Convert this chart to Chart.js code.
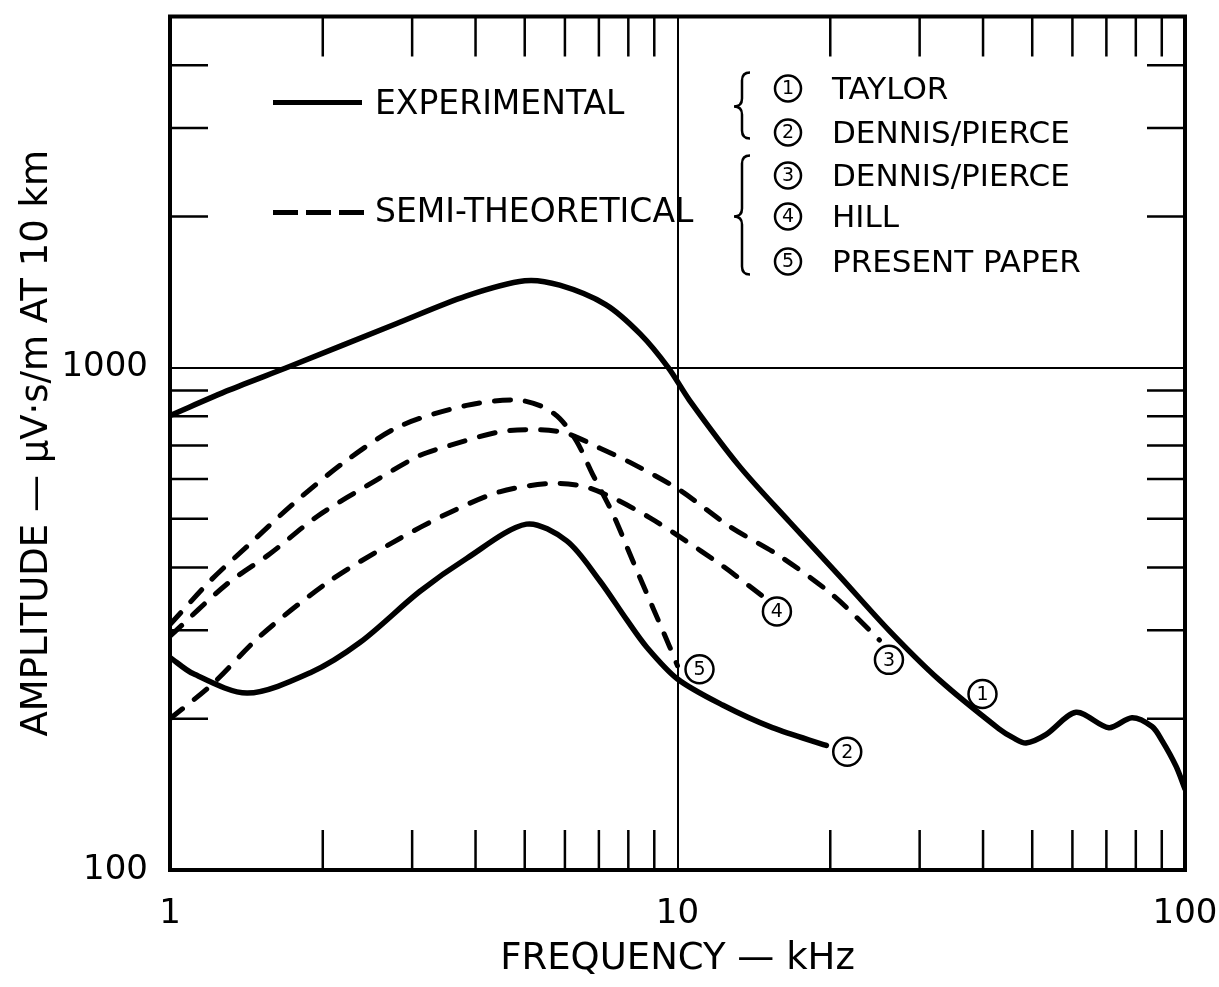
<!DOCTYPE html>
<html>
<head>
  <title>Amplitude vs Frequency</title>
  <script src="https://cdn.jsdelivr.net/npm/chart.js"></script>
  <style>
    body {
      margin: 0;
      background: #fff;
    }
    #chart-wrapper {
      width: 1219px;
      height: 987px;
    }
  </style>
</head>
<body>
<div id="chart-wrapper">
  <canvas id="chart" width="1219" height="987"></canvas>
</div>

<script>
  // axis ticks
  const xLabelTicks = [1, 10, 100];
  const yLabelTicks = [100, 1000];
  const xMinorTicks = [2, 3, 4, 5, 6, 7, 8, 9, 20, 30, 40, 50, 60, 70, 80, 90];
  const yMinorTicks = [200, 300, 400, 500, 600, 700, 800, 900, 2000, 3000, 4000];

  // (1) Taylor - experimental
  const taylorFreq = [1, 1.31, 1.72, 2.79, 3.83, 5.0, 5.86, 7.22, 8.45, 9.59, 10.56, 13.25, 16.6, 20.8, 26.1, 32.8, 43.0, 46, 48.6, 53.2, 61.0, 70.8, 78.6, 86.1, 90.1, 96.0, 100];
  const taylorAmp  = [803, 903, 1005, 1223, 1388, 1489, 1459, 1335, 1166, 1000, 861, 636, 494, 386, 300, 239, 191, 183, 179, 186, 206, 192, 201, 193, 181, 161, 145];

  // (2) Dennis/Pierce - experimental
  const dpExpFreq = [1, 1.11, 1.42, 1.89, 2.37, 3.10, 3.84, 5.04, 6.05, 7.02, 7.94, 8.69, 10, 12.27, 15.38, 19.65];
  const dpExpAmp  = [265, 246, 225, 247, 284, 358, 417, 488, 452, 377, 315, 278, 240, 213, 192, 177];

  // (3) Dennis/Pierce - semi-theoretical
  const dpThFreq = [1, 1.295, 1.574, 1.946, 2.556, 3.10, 3.56, 4.46, 5.35, 6.05, 7.02, 8.15, 10.09, 12.66, 15.88, 20.2, 25.0];
  const dpThAmp  = [292, 371, 426, 505, 598, 668, 700, 745, 752, 740, 692, 644, 571, 483, 422, 353, 287];

  // (4) Hill - semi-theoretical
  const hillFreq = [1, 1.215, 1.504, 2.04, 2.75, 3.56, 4.46, 5.60, 6.50, 7.45, 8.81, 10.09, 12.27, 14.70];
  const hillAmp  = [200, 235, 292, 373, 449, 515, 566, 588, 581, 551, 503, 461, 403, 351];

  // (5) Present paper - semi-theoretical
  const presentFreq = [1, 1.199, 1.437, 1.746, 2.23, 2.84, 3.84, 4.82, 5.42, 5.86, 6.33, 6.80, 7.45, 8.15, 8.93, 9.64, 10];
  const presentAmp  = [308, 376, 446, 535, 654, 765, 841, 862, 836, 792, 713, 614, 513, 414, 334, 279, 255];

  // circled curve numbers on the plot
  const markerFreq = [39.9, 21.6, 26.1, 15.7, 11.05];
  const markerAmp  = [224, 172, 262, 327, 251];
  const markerText = ['1', '2', '3', '4', '5'];

  // legend text
  const legendKinds = ['EXPERIMENTAL', 'SEMI-THEORETICAL'];
  const legendNames = ['TAYLOR', 'DENNIS/PIERCE', 'DENNIS/PIERCE', 'HILL', 'PRESENT PAPER'];

  const FONT = '"DejaVu Sans", sans-serif';
  Chart.defaults.font.family = FONT;
  Chart.defaults.color = '#000';

  const zip = (xs, ys) => xs.map((v, i) => ({ x: v, y: ys[i] }));

  const solid = { borderColor: '#000', borderWidth: 5.5, borderCapStyle: 'round', borderJoinStyle: 'round',
                  pointRadius: 0, fill: false, tension: 0.3 };
  const dashed = Object.assign({}, solid, { borderWidth: 5, borderDash: [16, 15] });

  // frame, inward ticks, legend, braces and circled numbers
  const decorations = {
    id: 'decorations',
    beforeDatasetsDraw(chart) {
      const { ctx, chartArea: a, scales: { x, y } } = chart;
      ctx.save();
      ctx.strokeStyle = '#000';
      ctx.lineWidth = 2.5;
      ctx.beginPath();
      xMinorTicks.forEach(v => {
        const px = x.getPixelForValue(v);
        ctx.moveTo(px, a.top); ctx.lineTo(px, a.top + 40);
        ctx.moveTo(px, a.bottom); ctx.lineTo(px, a.bottom - 40);
      });
      yMinorTicks.forEach(v => {
        const py = y.getPixelForValue(v);
        ctx.moveTo(a.left, py); ctx.lineTo(a.left + 38, py);
        ctx.moveTo(a.right, py); ctx.lineTo(a.right - 38, py);
      });
      ctx.stroke();
      ctx.lineWidth = 4;
      ctx.strokeRect(a.left, a.top, a.right - a.left, a.bottom - a.top);
      ctx.restore();
    },
    afterDatasetsDraw(chart) {
      const { ctx, chartArea: a } = chart;
      ctx.save();
      ctx.fillStyle = '#000';
      ctx.strokeStyle = '#000';
      ctx.textBaseline = 'middle';

      // numbers inside the plot markers
      const meta = chart.getDatasetMeta(5);
      ctx.font = '19px ' + FONT;
      ctx.textAlign = 'center';
      meta.data.forEach((pt, i) => ctx.fillText(markerText[i], pt.x, pt.y + 1));

      // left legend: line samples
      const lx = a.left + 103, lw = 89;
      ctx.lineWidth = 5;
      ctx.beginPath();
      ctx.moveTo(lx, a.top + 86); ctx.lineTo(lx + lw, a.top + 86);
      ctx.stroke();
      ctx.setLineDash([25, 8]);
      ctx.beginPath();
      ctx.moveTo(lx, a.top + 196); ctx.lineTo(lx + lw + 2, a.top + 196);
      ctx.stroke();
      ctx.setLineDash([]);
      ctx.font = '33px ' + FONT;
      ctx.textAlign = 'left';
      ctx.fillText(legendKinds[0], a.left + 205, a.top + 89);
      ctx.fillText(legendKinds[1], a.left + 205, a.top + 197);

      // braces
      const brace = (bx, y0, y1, ym, w) => {
        ctx.beginPath();
        ctx.moveTo(bx + w, y0);
        ctx.quadraticCurveTo(bx, y0, bx, y0 + w);
        ctx.lineTo(bx, ym - w);
        ctx.quadraticCurveTo(bx, ym, bx - w, ym);
        ctx.quadraticCurveTo(bx, ym, bx, ym + w);
        ctx.lineTo(bx, y1 - w);
        ctx.quadraticCurveTo(bx, y1, bx + w, y1);
        ctx.stroke();
      };
      ctx.lineWidth = 2.5;
      brace(a.left + 572, a.top + 56, a.top + 122, a.top + 90, 8);
      brace(a.left + 572, a.top + 139, a.top + 258, a.top + 200, 8);

      // right legend: circled numbers and names
      const rows = [72, 116, 159, 200, 245];
      rows.forEach((r, i) => {
        ctx.lineWidth = 2.5;
        ctx.beginPath();
        ctx.arc(a.left + 618, a.top + r, 13, 0, Math.PI * 2);
        ctx.stroke();
        ctx.font = '19px ' + FONT;
        ctx.textAlign = 'center';
        ctx.fillText(markerText[i], a.left + 618, a.top + r + 1);
        ctx.font = '31px ' + FONT;
        ctx.textAlign = 'left';
        ctx.fillText(legendNames[i], a.left + 662, a.top + r + 2);
      });
      ctx.restore();
    }
  };

  const chartCtx = document.getElementById('chart').getContext('2d');
  const chart = new Chart(chartCtx, {
    type: 'line',
    data: {
      datasets: [
        Object.assign({ label: 'Taylor', data: zip(taylorFreq, taylorAmp) }, solid),
        Object.assign({ label: 'Dennis/Pierce (exp.)', data: zip(dpExpFreq, dpExpAmp) }, solid),
        Object.assign({ label: 'Dennis/Pierce (semi-th.)', data: zip(dpThFreq, dpThAmp) }, dashed),
        Object.assign({ label: 'Hill', data: zip(hillFreq, hillAmp) }, dashed),
        Object.assign({ label: 'Present paper', data: zip(presentFreq, presentAmp) }, dashed),
        {
          label: 'markers',
          data: zip(markerFreq, markerAmp),
          showLine: false,
          pointRadius: 14,
          pointBackgroundColor: '#fff',
          pointBorderColor: '#000',
          pointBorderWidth: 2.5
        }
      ]
    },
    options: {
      responsive: false,
      animation: false,
      devicePixelRatio: 1,
      events: [],
      layout: { padding: { top: 4, right: 34, left: 0, bottom: 0 } },
      plugins: {
        legend: { display: false },
        tooltip: { enabled: false }
      },
      scales: {
        x: {
          type: 'logarithmic',
          min: 1,
          max: 100,
          afterBuildTicks: s => { s.ticks = xLabelTicks.map(v => ({ value: v })); },
          afterFit: s => { s.height = 117; s.paddingLeft = 0; s.paddingRight = 0; },
          ticks: { callback: v => String(v), font: { size: 34 }, padding: 24, maxRotation: 0 },
          grid: { color: '#000', lineWidth: 2, drawTicks: false },
          border: { display: false },
          title: { display: true, text: 'FREQUENCY — kHz', font: { size: 37 }, padding: { top: 0, bottom: 5 } }
        },
        y: {
          type: 'logarithmic',
          min: 100,
          max: 5000,
          afterBuildTicks: s => { s.ticks = yLabelTicks.map(v => ({ value: v })); },
          afterFit: s => { s.width = 170; s.paddingTop = 0; s.paddingBottom = 0; },
          ticks: { callback: v => String(v), font: { size: 34 }, padding: 22 },
          grid: { color: '#000', lineWidth: 2, drawTicks: false },
          border: { display: false },
          title: { display: true, text: 'AMPLITUDE — μV·s/m AT 10 km', font: { size: 37 }, padding: { top: 15, bottom: 0 } }
        }
      }
    },
    plugins: [decorations]
  });
</script>
</body>
</html>
